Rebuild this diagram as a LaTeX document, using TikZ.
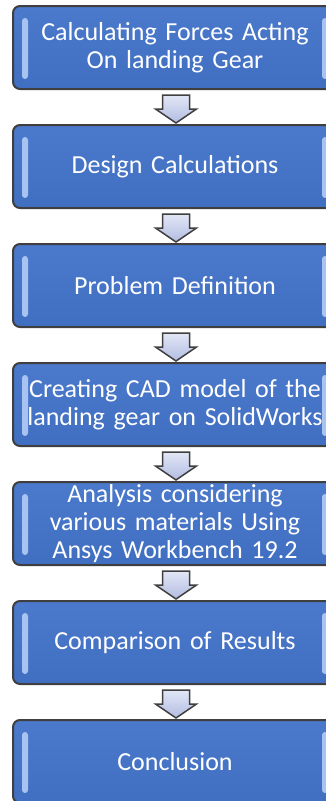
\documentclass[tikz,border=0pt]{standalone}
\usepackage{fontspec}
\setmainfont{Carlito}
\usetikzlibrary{calc}
\definecolor{boxtop}{HTML}{4B79CB}
\definecolor{boxbot}{HTML}{406EC0}
\definecolor{rimgray}{HTML}{3F3F3F}
\definecolor{barlight}{HTML}{A8C3F2}
\definecolor{arrowlight}{HTML}{E2E6F5}
\definecolor{arrowdark}{HTML}{B2BCE2}
\tikzset{
  x=1pt, y=-1pt,
  stagebox/.style={rectangle, rounded corners=7pt, minimum width=324pt, minimum height=83pt,
    draw=rimgray, line width=2pt, top color=boxtop, bottom color=boxbot,
    text=white, align=center, font=\fontsize{26}{28}\selectfont, inner sep=0pt,
    text width=322pt, anchor=north},
  bevelbar/.style={fill=barlight, rounded corners=3pt},
  downarrow/.style={draw=rimgray, line width=1.5pt, top color=arrowlight, bottom color=arrowdark, line join=miter}
}
\begin{document}
\begin{tikzpicture}
\useasboundingbox (0,0) rectangle (326,801);
\node[stagebox] (s1) at (175,5)   {Calculating Forces Acting\\On landing Gear};
\node[stagebox] (s2) at (175,124) {Design Calculations};
\node[stagebox] (s3) at (175,243) {Problem Definition};
\node[stagebox] (s4) at (175,362) {Creating CAD model of the\\landing gear on SolidWorks};
\node[stagebox] (s5) at (175,481) {Analysis considering\\various materials Using\\Ansys Workbench 19.2};
\node[stagebox] (s6) at (175,600) {Comparison of Results};
\node[stagebox] (s7) at (175,719) {Conclusion};
% light bevel strips inside the left and right rims
\foreach \n in {s1,s2,s3,s4,s5,s6,s7} {
  \fill[bevelbar] ($(\n.north west)+(10,13)$) rectangle ($(\n.south west)+(16,-11)$);
  \fill[bevelbar] ($(\n.north east)+(-16,13)$) rectangle ($(\n.south east)+(-10,-11)$);
}
% block arrows between consecutive stages
\foreach \a/\b in {s1/s2,s2/s3,s3/s4,s4/s5,s5/s6,s6/s7} {
  \path ($(\a.south)+(1,0)$) coordinate (top-\a);
  \path[downarrow] ($(top-\a)+(-13.5,5)$) -- ($(top-\a)+(13.5,5)$) -- ($(top-\a)+(13.5,19)$)
     -- ($(top-\a)+(20.5,19)$) -- ($(\b.north)+(1,-1)$) -- ($(top-\a)+(-20.5,19)$)
     -- ($(top-\a)+(-13.5,19)$) -- cycle;
}
\end{tikzpicture}
\end{document}
